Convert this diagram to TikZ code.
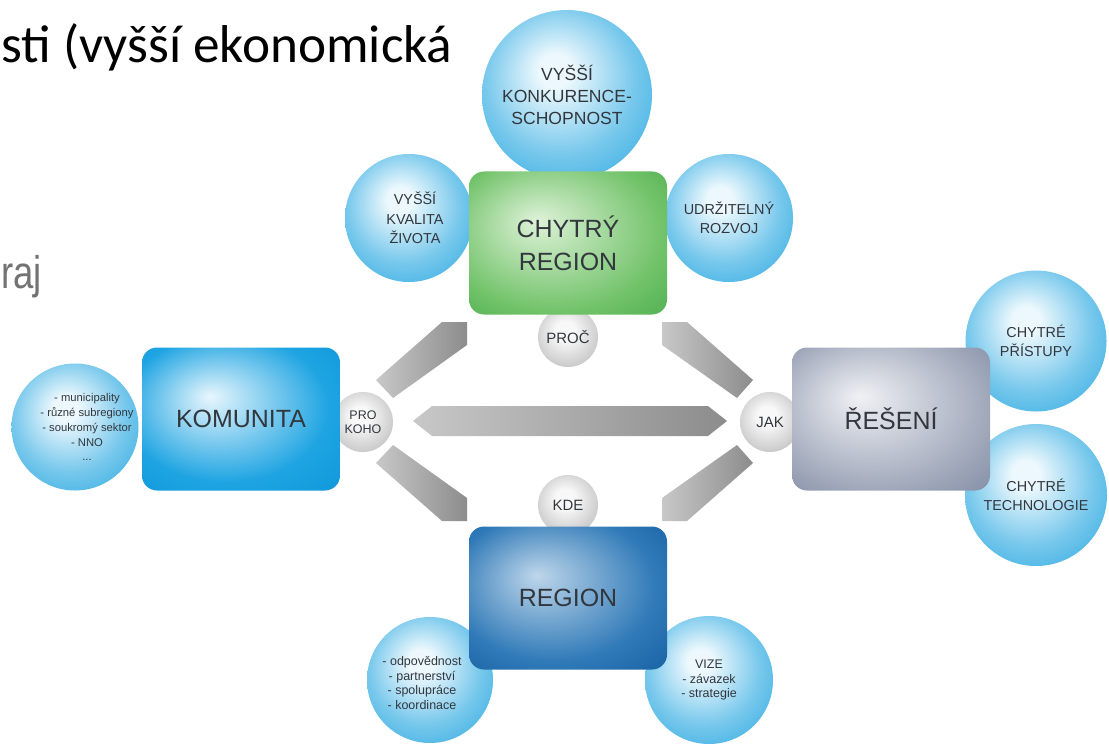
\documentclass[tikz,border=0pt]{standalone}
\usepackage{fontspec}
\setmainfont{Liberation Sans}
\newfontfamily\calibri{Carlito}
\newfontfamily\narrowsans{Liberation Sans}[FakeStretch=0.8]

\definecolor{txt}{RGB}{50,55,62}
\definecolor{ballhi}{RGB}{236,248,253}
\definecolor{ballmid}{RGB}{120,200,236}
\definecolor{balledge}{RGB}{80,184,230}
\definecolor{askhi}{RGB}{248,248,248}
\definecolor{askedge}{RGB}{196,196,196}
\definecolor{greenhi}{RGB}{222,242,216}
\definecolor{greenedge}{RGB}{112,194,104}
\definecolor{greendark}{RGB}{66,168,70}
\definecolor{komhi}{RGB}{232,246,253}
\definecolor{komedge}{RGB}{30,164,226}
\definecolor{komdark}{RGB}{8,146,216}
\definecolor{reshi}{RGB}{240,241,245}
\definecolor{resedge}{RGB}{160,168,186}
\definecolor{resdark}{RGB}{118,130,156}
\definecolor{reghi}{RGB}{190,214,234}
\definecolor{regedge}{RGB}{48,122,184}
\definecolor{regdark}{RGB}{14,88,158}
\definecolor{bandhi}{RGB}{140,140,140}
\definecolor{bandlo}{RGB}{200,200,200}

\pgfdeclareradialshading{ballsh}{\pgfpoint{-4bp}{8bp}}{color(0bp)=(ballhi); color(5bp)=(ballhi); color(22bp)=(ballmid); color(30bp)=(balledge); color(50bp)=(balledge)}
\pgfdeclareradialshading{asksh}{\pgfpoint{-3bp}{6bp}}{color(0bp)=(askhi); color(8bp)=(askhi); color(30bp)=(askedge); color(50bp)=(askedge)}
\pgfdeclareradialshading{greensh}{\pgfpoint{-8bp}{8bp}}{color(0bp)=(greenhi); color(28bp)=(greenedge); color(44bp)=(greendark); color(50bp)=(greendark)}
\pgfdeclareradialshading{komsh}{\pgfpoint{-8bp}{8bp}}{color(0bp)=(komhi); color(26bp)=(komedge); color(44bp)=(komdark); color(50bp)=(komdark)}
\pgfdeclareradialshading{ressh}{\pgfpoint{-8bp}{8bp}}{color(0bp)=(reshi); color(28bp)=(resedge); color(44bp)=(resdark); color(50bp)=(resdark)}
\pgfdeclareradialshading{regsh}{\pgfpoint{-8bp}{8bp}}{color(0bp)=(reghi); color(26bp)=(regedge); color(44bp)=(regdark); color(50bp)=(regdark)}

\begin{document}
\begin{tikzpicture}[
  x=0.2mm, y=-0.2mm,
  box/.style={rectangle, rounded corners=3mm, minimum width=39.6mm, minimum height=28.6mm, inner sep=0pt, align=center, text=txt, font=\fontsize{14.2}{18.8}\selectfont},
  bubble/.style={circle, inner sep=0pt, align=center, text=txt, shading=ballsh},
  ask/.style={circle, inner sep=0pt, minimum size=12mm, align=center, text=txt, shading=asksh, font=\fontsize{8.5}{9.5}\selectfont},
  caps/.style={font=\fontsize{8.2}{11}\selectfont},
  bigcaps/.style={font=\fontsize{10}{12.5}\selectfont},
  list/.style={font=\fontsize{6.4}{8.5}\selectfont},
  longlist/.style={font=\fontsize{7.1}{8.3}\selectfont},
  band/.style={left color=bandlo, right color=bandhi}
]
\useasboundingbox (0,0) rectangle (1109,743);
\fill[white] (0,0) rectangle (1109,743);

%% ============ Slide text (left) ============
\node[anchor=base west, inner sep=0pt, font=\calibri\fontsize{30.3}{36}\selectfont] (heading) at (1,63) {sti (vyšší ekonomická};
\node[anchor=base west, inner sep=0pt, text=black!55, font=\narrowsans\fontsize{26}{30}\selectfont] (kraj) at (1,288) {raj};

%% ============ Bubbles (behind the boxes) ============
\node[bubble, bigcaps, minimum size=34mm]   (konkur)   at (567,95)  {VYŠŠÍ\\KONKURENCE-\\SCHOPNOST};
\node[bubble, caps, minimum size=25.6mm,
  label={[caps, align=center, text=txt, xshift=1.2mm]center:{VYŠŠÍ\\KVALITA\\ŽIVOTA}}] (kvalita) at (409,218) {};
\node[bubble, caps, minimum size=25.6mm]    (rozvoj)   at (729,218) {UDRŽITELNÝ\\ROZVOJ};
\node[bubble, minimum size=25.4mm,
  label={[list, align=center, text=txt, xshift=2.4mm]center:{- municipality\\- různé subregiony\\- soukromý sektor\\- NNO\\...}}] (aktery) at (75,427) {};
\node[bubble, caps, minimum size=28.2mm]    (pristupy) at (1036,341) {CHYTRÉ\\PŘÍSTUPY};
\node[bubble, caps, minimum size=28.4mm]    (techno)   at (1036,495) {CHYTRÉ\\TECHNOLOGIE};
\node[bubble, minimum size=25.2mm,
  label={[longlist, align=center, text=txt, xshift=-1.6mm, yshift=-0.6mm]center:{- odpovědnost\\- partnerství\\- spolupráce\\- koordinace}}] (vztahy) at (430,680) {};
\node[bubble, longlist, minimum size=25.6mm] (vize)    at (709,680) {VIZE\\- závazek\\- strategie};

%% ============ Question circles ============
\node[ask] (proc)    at (568,337) {PROČ};
\node[ask, font=\fontsize{7.1}{8}\selectfont] (prokoho) at (363,422) {PRO\\KOHO};
\node[ask] (jak)     at (770,422) {JAK};
\node[ask] (kde)     at (568,505) {KDE};

%% ============ Main boxes ============
\node[box, shading=greensh] (chytry)   at (568,243) {CHYTRÝ\\REGION};
\node[box, shading=komsh]   (komunita) at (241,419) {KOMUNITA};
\node[box, shading=ressh]   (reseni)   at (891,419) {ŘEŠENÍ};
\node[box, shading=regsh]   (region)   at (568,598) {REGION};

%% ============ Grey bands between the boxes ============
\shade[band] (413,421) -- (432,406) -- (708,406) -- (727,421) -- (708,436) -- (432,436) -- cycle;
\shade[band] (442,322) -- (467,322) -- (467,345) -- (393,398) -- (376,380) -- cycle;
\shade[band] (687,322) -- (662,322) -- (662,345) -- (737,398) -- (753,380) -- cycle;
\shade[band] (442,521) -- (467,521) -- (467,498) -- (393,445) -- (376,463) -- cycle;
\shade[band] (687,521) -- (662,521) -- (662,498) -- (737,445) -- (753,463) -- cycle;

\end{tikzpicture}
\end{document}
